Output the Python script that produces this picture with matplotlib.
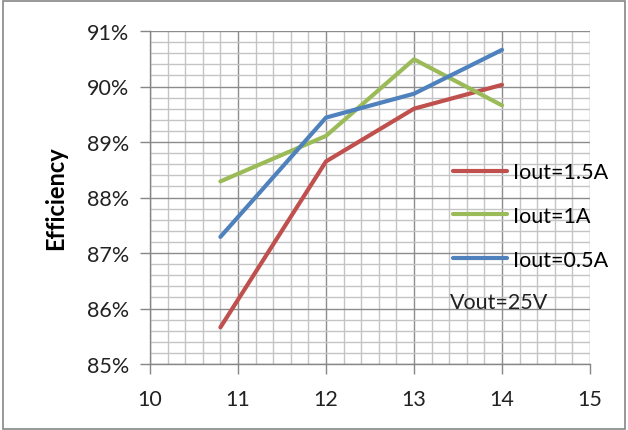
import matplotlib.pyplot as plt
from matplotlib.ticker import MultipleLocator, FuncFormatter
from matplotlib.patches import Rectangle

# input voltage (V) and efficiency (%) for each load current
vin = [10.8, 12, 13, 14]
eff_1p5a = [85.66, 88.65, 89.60, 90.03]
eff_1a = [88.29, 89.11, 90.49, 89.66]
eff_0p5a = [87.29, 89.44, 89.87, 90.66]

series = [
    ('Iout=1.5A', eff_1p5a, '#C0504D'),
    ('Iout=1A', eff_1a, '#9BBB59'),
    ('Iout=0.5A', eff_0p5a, '#4F81BD'),
]

plt.rcParams['font.family'] = ['Lato', 'DejaVu Sans']
FS = 15.5

W, H = 628, 431
fig = plt.figure(figsize=(W / 100, H / 100), dpi=100)
fig.patch.set_facecolor('white')

# outer chart border
fig.patches.append(Rectangle((3 / W, 1 / H), (W - 6) / W, (H - 3) / H,
                             transform=fig.transFigure, fill=False,
                             edgecolor='#868686', linewidth=1.2))

ax = fig.add_axes([150 / W, 1 - 365 / H, 440 / W, 333 / H])

for label, vals, color in series:
    ax.plot(vin, vals, color=color, linewidth=3, label=label,
            solid_capstyle='round', solid_joinstyle='round', zorder=3)

ax.set_xlim(10, 15)
ax.set_ylim(85, 91)
ax.xaxis.set_major_locator(MultipleLocator(1))
ax.xaxis.set_minor_locator(MultipleLocator(0.2))
ax.yaxis.set_major_locator(MultipleLocator(1))
ax.yaxis.set_minor_locator(MultipleLocator(0.2))
ax.yaxis.set_major_formatter(FuncFormatter(lambda v, p: f'{v:.0f}%'))

ax.grid(which='major', color='#8c8c8c', linewidth=1.0, zorder=1)
ax.grid(which='minor', color='#c4c4c4', linewidth=1.0, zorder=0)
ax.set_axisbelow(True)

for side in ['top', 'right']:
    ax.spines[side].set_visible(False)
for side in ['left', 'bottom']:
    ax.spines[side].set_color('#868686')
    ax.spines[side].set_linewidth(1.0)

ax.tick_params(which='major', direction='out', length=7, width=1,
               color='#868686', labelsize=FS, labelcolor='#222222')
ax.tick_params(which='minor', length=0)
ax.tick_params(axis='y', pad=8)
ax.tick_params(axis='x', pad=11)

fig.text(56 / W, 1 - 198 / H, 'Efficiency', rotation=90, fontsize=17,
         fontweight='bold', ha='center', va='center', color='black')

ax.legend(loc='center left', bbox_to_anchor=(453 / W, 1 - 217 / H),
          bbox_transform=fig.transFigure, frameon=False, fontsize=FS,
          handlelength=2.5, handletextpad=0.28, labelspacing=1.1,
          borderpad=0, borderaxespad=0)

fig.text(450 / W, 1 - 303 / H, 'Vout=25V', fontsize=FS,
         ha='left', va='center', color='#222222')

fig.savefig('out.png', dpi=100)
